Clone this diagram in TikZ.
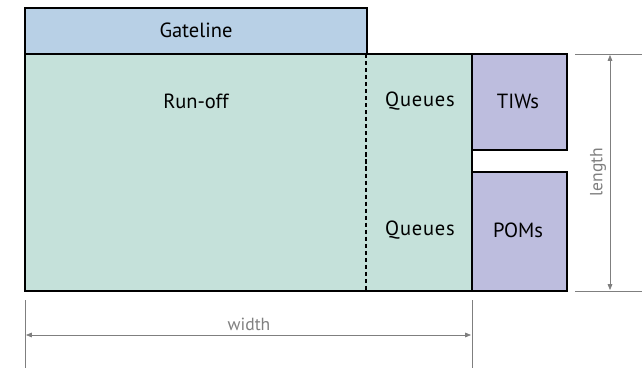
\documentclass[tikz,border=0pt]{standalone}
\usepackage{fontspec}
\setmainfont{PT Sans}
\usepackage{tikz}
\usetikzlibrary{positioning,arrows.meta}

\definecolor{gatecol}{HTML}{B8D0E6}
\definecolor{yardcol}{HTML}{C5E1DA}
\definecolor{eqcol}{HTML}{BDBDDE}
\definecolor{dimcol}{HTML}{7F7F7F}

\begin{document}
\begin{tikzpicture}[x=0.03cm,y=-0.03cm,
  zone/.style={draw=black,line width=1.2pt},
  lbl/.style={font=\fontsize{17.5}{20}\selectfont},
  dimline/.style={draw=dimcol,line width=0.6pt},
  dimtxt/.style={text=dimcol,font=\fontsize{15}{18}\selectfont}]
\useasboundingbox (0,0) rectangle (642,368);

% gateline strip
\filldraw[zone,fill=gatecol] (25,8) rectangle (367,54);
% yard: run-off and queues
\filldraw[zone,fill=yardcol] (25,54) rectangle (472,291);
\draw[line width=1.2pt,dash pattern=on 3.5pt off 2.5pt] (366,54) -- (366,291);
% equipment
\filldraw[zone,fill=eqcol] (472,54) rectangle (567,150);
\filldraw[zone,fill=eqcol] (472,172) rectangle (567,291);

\node[lbl] (gate) at (196,30) {Gateline};
\node[lbl] (runoff) at (196,101) {Run-off};
\node[lbl] (queue1) at (420,101) {\addfontfeature{LetterSpace=4}Queues};
\node[lbl] (queue2) at (420,230) {\addfontfeature{LetterSpace=4}Queues};
\node[lbl] (tiws) at (518,101) {TIWs};
\node[lbl] (poms) at (518,230) {POMs};

% length
\draw[dimline] (575,54) -- (642,54) (575,291) -- (642,291);
\coordinate (ltop) at (610,55);
\coordinate (lbot) at (610,290);
\draw[dimline,{Triangle[length=5pt,width=4pt]}-{Triangle[length=5pt,width=4pt]}] (ltop) -- (lbot);
\node[dimtxt,rotate=90] (len) at (598,172) {length};

% width
\draw[dimline] (25,300) -- (25,368) (472,300) -- (472,368);
\coordinate (wleft) at (26,335);
\coordinate (wright) at (471,335);
\draw[dimline,{Triangle[length=5pt,width=4pt]}-{Triangle[length=5pt,width=4pt]}] (wleft) -- (wright);
\node[dimtxt] (wid) at (249,324) {width};
\end{tikzpicture}
\end{document}
